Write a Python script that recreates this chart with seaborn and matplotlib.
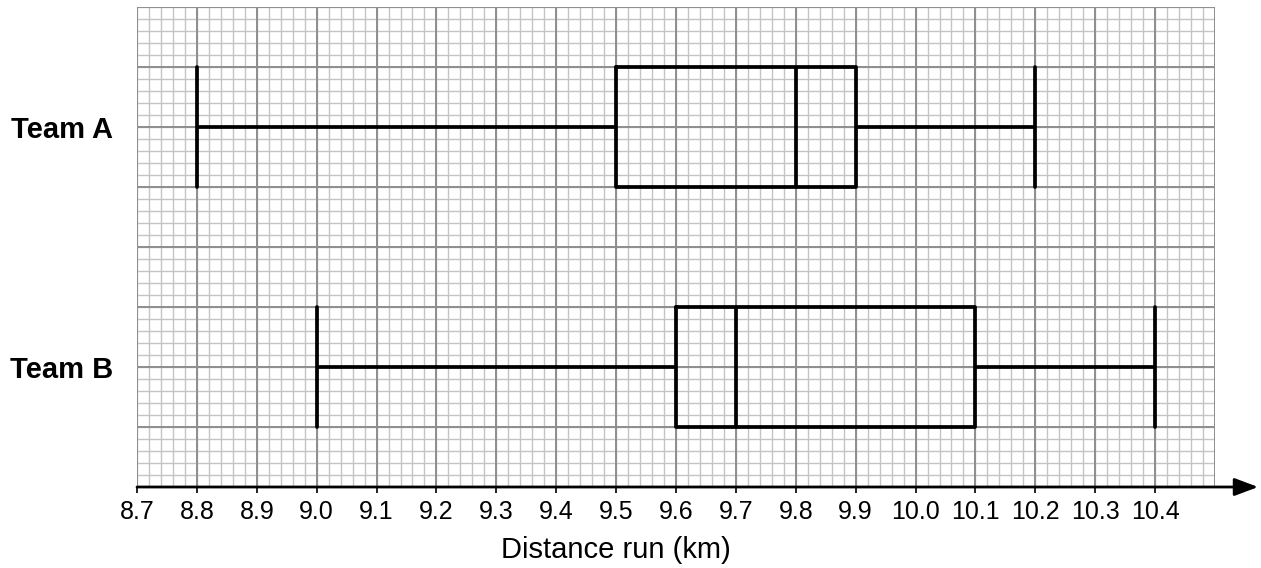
import numpy as np
import pandas as pd
import matplotlib
matplotlib.use("Agg")
import matplotlib.pyplot as plt
import seaborn as sns

# Data: five-number summaries (min, Q1, median, Q3, max)
teams = ["Team A", "Team B"]
team_a = [8.8, 9.5, 9.8, 9.9, 10.2]
team_b = [9.0, 9.6, 9.7, 10.1, 10.4]
tick_values = [round(8.7 + 0.1 * i, 1) for i in range(18)]
tick_labels = [f"{v:.1f}" for v in tick_values]
x_label = "Distance run (km)"

df = pd.DataFrame({
    "team": [teams[0]] * len(team_a) + [teams[1]] * len(team_b),
    "distance": team_a + team_b,
})

sns.set_theme(style="white")
plt.rcParams["font.family"] = ["Liberation Sans", "DejaVu Sans"]
plt.rcParams["text.color"] = "black"
plt.rcParams["xtick.color"] = "black"
plt.rcParams["ytick.color"] = "black"
plt.rcParams["axes.labelcolor"] = "black"

fig = plt.figure(figsize=(12.61, 5.68), dpi=100)
ax = fig.add_axes([137 / 1261, 81 / 568, 1078 / 1261, 480 / 568])

sns.boxplot(
    data=df, x="distance", y="team", orient="h", order=teams,
    whis=(0, 100), width=0.5, fill=False, color="black", linewidth=2.7,
    capwidths=0.5, ax=ax, zorder=3,
)

xmin, xmax = 8.7, 10.5
ymin, ymax = -0.5, 1.5

# graph-paper grid
minor_x = np.round(np.arange(xmin, xmax + 1e-9, 0.02), 3)
minor_y = np.round(np.arange(ymin, ymax + 1e-9, 0.05), 3)
major_x = np.round(np.arange(xmin, xmax + 1e-9, 0.1), 3)
major_y = np.round(np.arange(ymin, ymax + 1e-9, 0.25), 3)
ax.vlines(minor_x, ymin, ymax, colors="#c4c4c4", linewidth=1.0, zorder=0)
ax.hlines(minor_y, xmin, xmax, colors="#c4c4c4", linewidth=1.0, zorder=0)
ax.vlines(major_x, ymin, ymax, colors="#8e8e8e", linewidth=1.4, zorder=1)
ax.hlines(major_y, xmin, xmax, colors="#8e8e8e", linewidth=1.4, zorder=1)

ax.set_xlim(xmin, xmax)
ax.set_ylim(ymax, ymin)

for s in ax.spines.values():
    s.set_visible(False)

# x axis with arrow
ax.annotate("", xy=(1.04, 0), xytext=(0, 0), xycoords="axes fraction",
            textcoords="axes fraction",
            arrowprops=dict(arrowstyle="-|>,head_length=1.2,head_width=0.45",
                            color="black", lw=2.0, shrinkA=0, shrinkB=0),
            annotation_clip=False, zorder=5)

ax.set_xticks(tick_values)
ax.set_xticklabels(tick_labels, fontsize=18, color="black")
ax.tick_params(axis="x", bottom=True, length=4.5, width=1.2, color="black",
               pad=5, direction="out")
ax.tick_params(axis="y", left=False, length=0, pad=17)
for lab in ax.get_yticklabels():
    lab.set_fontsize(21)
    lab.set_fontweight("bold")
    lab.set_color("black")

ax.set_ylabel("")
ax.set_xlabel(x_label, fontsize=21, color="black")
ax.xaxis.set_label_coords(0.4443, -0.102)

fig.savefig("out.png", dpi=100)
